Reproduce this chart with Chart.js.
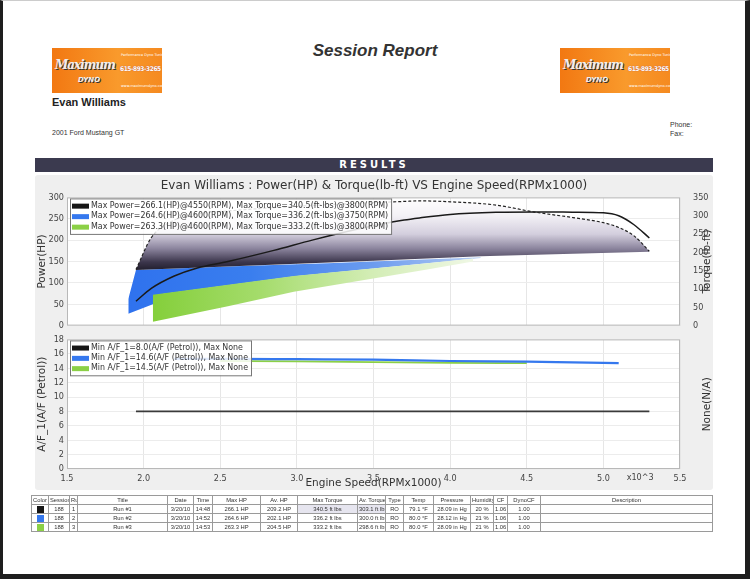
<!DOCTYPE html>
<html>
<head>
<meta charset="utf-8">
<script src="https://cdn.jsdelivr.net/npm/chart.js@4/dist/chart.umd.min.js"></script>
<style>
  html, body { margin: 0; padding: 0; }
  body { width: 750px; height: 579px; position: relative; background: #fff; overflow: hidden;
         font-family: "Liberation Sans", Arial, sans-serif; color: #333; }
  #frame { position: absolute; left: 0; top: 0; width: 742px; height: 573px;
           border-left: 3px solid #1e1e1e; border-right: 5px solid #1e1e1e; border-bottom: 6px solid #1e1e1e; border-top: 1px solid #ccc; }
  .logo { position: absolute; top: 48px; width: 110px; height: 45px;
          background: linear-gradient(90deg, #f27812, #f99a2c 60%, #f58a20); overflow: hidden; }
  .logo .mx { position: absolute; left: 3px; top: 10px; font: italic bold 12px "DejaVu Serif", serif;
              color: #eee; text-shadow: 1px 1px 0 #333; letter-spacing: -1px; }
  .logo .dy { position: absolute; left: 26px; top: 28px; font: italic bold 7px "DejaVu Sans", sans-serif; color: #eee; text-shadow: 1px 1px 0 #333; }
  .logo .l1, .logo .l3 { position: absolute; left: 69px; font: 3.5px "DejaVu Sans", sans-serif; color: #fff; white-space: nowrap; }
  .logo .l1 { top: 5px; } .logo .l3 { top: 36px; }
  .logo .l2 { position: absolute; left: 68px; top: 17px; font: bold 6.5px "DejaVu Sans Condensed", "DejaVu Sans", sans-serif; color: #fff;
              letter-spacing: -0.4px; text-shadow: 0 0 1px #a44; white-space: nowrap; }
  #title { position: absolute; left: 0; width: 750px; top: 41px; text-align: center; font: italic bold 17px "Liberation Sans", Arial, sans-serif; color: #333; }
  #cust { position: absolute; left: 52px; top: 96px; font: bold 11px "Liberation Sans", Arial, sans-serif; color: #222; }
  #car { position: absolute; left: 52px; top: 129px; font: 7px "Liberation Sans", Arial, sans-serif; color: #333; }
  #phone { position: absolute; left: 670px; top: 120px; font: 7px "Liberation Sans", Arial, sans-serif; color: #333; line-height: 9px; }
  #results { position: absolute; left: 35px; top: 158px; width: 678px; height: 14px; background: #3b3a4f;
             color: #fff; font: bold 10px "DejaVu Sans", sans-serif; letter-spacing: 3px; text-align: center; line-height: 14px; }
  #panel { position: absolute; left: 35px; top: 175px; width: 678px; height: 315px; background: #efefef; border-radius: 3px; }
  #pwrWrap { position: absolute; left: 35px; top: 176px; }
  #afWrap { position: absolute; left: 35px; top: 331px; }
  table { position: absolute; left: 31px; top: 495px; border-collapse: collapse; table-layout: fixed; width: 681px;
          font: 5.8px "Liberation Sans", Arial, sans-serif; color: #333; border: 1px solid #888; }
  td, th { border: 1px solid #9a9a9a; height: 8px; padding: 0 1px; white-space: nowrap; overflow: hidden; text-align: center; font-weight: normal; }
  .sw { display: inline-block; width: 7px; height: 7px; vertical-align: middle; }
  .hl { background: #e6e5ef; }
</style>
</head>
<body>
<div id="frame"></div>

<div class="logo" style="left:52px"><div class="mx">Maximum</div><div class="dy">DYNO</div>
  <div class="l1">Performance Dyno Tuning</div><div class="l2">615-893-3265</div><div class="l3">www.maximumdyno.com</div></div>
<div class="logo" style="left:560px"><div class="mx">Maximum</div><div class="dy">DYNO</div>
  <div class="l1">Performance Dyno Tuning</div><div class="l2">615-893-3265</div><div class="l3">www.maximumdyno.com</div></div>

<div id="title">Session Report</div>
<div id="cust">Evan Williams</div>
<div id="car">2001 Ford Mustang GT</div>
<div id="phone">Phone:<br>Fax:</div>
<div id="results">RESULTS</div>
<div id="panel"></div>

<div id="pwrWrap"><canvas id="pwrChart" width="678" height="160"></canvas></div>
<div id="afWrap"><canvas id="afChart" width="678" height="159"></canvas></div>

<table id="runTable"></table>

<script>
// run colours and legend text
var runColors = ['#161616', '#3578ee', '#8bd046'];
var powerLegend = [
  'Max Power=266.1(HP)@4550(RPM), Max Torque=340.5(ft-lbs)@3800(RPM)',
  'Max Power=264.6(HP)@4600(RPM), Max Torque=336.2(ft-lbs)@3750(RPM)',
  'Max Power=263.3(HP)@4600(RPM), Max Torque=333.2(ft-lbs)@3800(RPM)'
];
var afLegend = [
  'Min A/F_1=8.0(A/F (Petrol)), Max None',
  'Min A/F_1=14.6(A/F (Petrol)), Max None',
  'Min A/F_1=14.5(A/F (Petrol)), Max None'
];

// run #1 power and torque curves (RPM x1000)
var rpmBlack = [1.95, 2.05, 2.2, 2.35, 2.55, 2.85, 3.1, 3.4, 3.7, 3.8, 4.0, 4.3, 4.55, 4.8, 5.0, 5.1, 5.2, 5.3];
var hpBlack  = [57, 87, 116, 135, 150, 176, 200, 226, 247, 252, 260, 265, 266.1, 265.5, 264, 257, 236, 205];
var tqBlack  = [153, 240, 288, 305, 313, 322, 328, 334, 339, 340.5, 338, 329, 310, 295, 281, 268, 245, 203];

// shaded bands (HP scale)
var darkLowRpm  = [1.95, 2.5, 3.5, 4.2, 4.8, 5.3];
var darkLowHp   = [130, 138, 152, 162, 168, 173];
var blueUpRpm   = [1.9, 1.95, 2.6, 3.2, 4.2];
var blueUpHp    = [62, 130, 139, 146, 160];
var blueLowRpm  = [1.9, 2.06, 2.1, 3.0, 3.85, 4.2];
var blueLowHp   = [28, 50, 73, 116, 146, 158];
var greenUpRpm  = [2.06, 2.98, 3.85, 4.15];
var greenUpHp   = [72, 116, 146, 157];
var greenLowRpm = [2.06, 2.55, 2.98, 3.85, 4.15];
var greenLowHp  = [9, 45, 79, 131, 150];

// air/fuel
var afBlackRpm = [1.95, 5.3];
var afBlack    = [8.0, 8.0];
var afBlueRpm  = [2.2, 2.6, 3.0, 3.5, 4.0, 4.5, 4.8, 5.1];
var afBlue     = [15.3, 15.3, 15.25, 15.2, 15.0, 14.9, 14.8, 14.7];
var afGreenRpm = [2.5, 3.0, 3.5, 4.0, 4.5];
var afGreen    = [15.0, 14.95, 14.85, 14.75, 14.7];

// table
var tableHead = ['Color', 'Session', 'Run', 'Title', 'Date', 'Time', 'Max HP', 'Av. HP', 'Max Torque', 'Av. Torque', 'Type', 'Temp', 'Pressure', 'Humidity', 'CF', 'DynoCF', 'Description'];
var colWidths = [17, 21, 8, 90, 26, 19, 48, 37, 60, 28, 18, 30, 37, 23, 14, 33, 172];
var sessions  = ['188', '188', '188'];
var runs      = ['1', '2', '3'];
var titles    = ['Run #1', 'Run #2', 'Run #3'];
var dates     = ['3/20/10', '3/20/10', '3/20/10'];
var times     = ['14:48', '14:52', '14:53'];
var maxHp     = ['266.1 HP', '264.6 HP', '263.3 HP'];
var avHp      = ['209.2 HP', '202.1 HP', '204.5 HP'];
var maxTq     = ['340.5 ft lbs', '336.2 ft lbs', '333.2 ft lbs'];
var avTq      = ['303.1 ft lbs', '300.0 ft lbs', '298.6 ft lbs'];
var types     = ['RO', 'RO', 'RO'];
var temps     = ['79.1 °F', '80.0 °F', '80.0 °F'];
var pressures = ['28.09 in Hg', '28.12 in Hg', '28.09 in Hg'];
var humidity  = ['20 %', '21 %', '21 %'];
var cfs       = ['1.06', '1.06', '1.06'];
var dynoCfs   = ['1.00', '1.00', '1.00'];

function pts(xs, ys) {
  return xs.map(function(x, i) { return { x: x, y: ys[i] }; });
}

function buildTable() {
  var html = '<colgroup>' + colWidths.map(function(w) { return '<col style="width:' + w + 'px">'; }).join('') + '</colgroup>';
  html += '<tr>' + tableHead.map(function(h) { return '<th>' + h + '</th>'; }).join('') + '</tr>';
  for (var i = 0; i < 3; i++) {
    var hl = i == 0 ? ' class="hl"' : '';
    html += '<tr><td><span class="sw" style="background:' + runColors[i] + '"></span></td>' +
      '<td>' + sessions[i] + '</td><td>' + runs[i] + '</td><td>' + titles[i] + '</td><td>' + dates[i] + '</td>' +
      '<td>' + times[i] + '</td><td>' + maxHp[i] + '</td><td>' + avHp[i] + '</td><td' + hl + '>' + maxTq[i] + '</td>' +
      '<td' + hl + '>' + avTq[i] + '</td><td>' + types[i] + '</td><td>' + temps[i] + '</td><td>' + pressures[i] + '</td>' +
      '<td>' + humidity[i] + '</td><td>' + cfs[i] + '</td><td>' + dynoCfs[i] + '</td><td></td></tr>';
  }
  document.getElementById('runTable').innerHTML = html;
}

// white plot area + border, legend box, right-hand axis title
var plotBox = {
  id: 'plotBox',
  beforeDraw: function(chart) {
    var a = chart.chartArea, ctx = chart.ctx;
    ctx.save();
    ctx.fillStyle = '#fff';
    ctx.fillRect(a.left, a.top, a.width, a.height);
    ctx.restore();
  },
  afterDraw: function(chart, args, opts) {
    var a = chart.chartArea, ctx = chart.ctx;
    ctx.save();
    ctx.strokeStyle = '#b8b8b8';
    ctx.lineWidth = 1;
    ctx.strokeRect(a.left + 0.5, a.top + 0.5, a.width - 1, a.height - 1);

    // legend
    if (opts.labels) {
      ctx.font = opts.font;
      var w = 0;
      opts.labels.forEach(function(t) { w = Math.max(w, ctx.measureText(t).width); });
      var x0 = a.left + opts.dx, y0 = a.top + opts.dy, rh = opts.rowH;
      var bw = w + 24, bh = rh * opts.labels.length + 4;
      ctx.fillStyle = 'rgba(255,255,255,0.85)';
      ctx.fillRect(x0, y0, bw, bh);
      ctx.strokeStyle = '#777';
      ctx.strokeRect(x0 + 0.5, y0 + 0.5, bw, bh);
      ctx.textBaseline = 'middle';
      opts.labels.forEach(function(t, i) {
        var cy = y0 + 2 + rh * i + rh / 2;
        ctx.fillStyle = runColors[i];
        ctx.fillRect(x0 + 2, cy - 2, 17, 5);
        ctx.fillStyle = '#333';
        ctx.fillText(t, x0 + 21, cy);
      });
    }
    if (opts.rightTitle) {
      ctx.font = '10.5px "DejaVu Sans"';
      ctx.fillStyle = '#333';
      ctx.textAlign = 'center';
      ctx.textBaseline = 'middle';
      ctx.translate(a.right + 27, (a.top + a.bottom) / 2);
      ctx.rotate(-Math.PI / 2);
      ctx.fillText(opts.rightTitle, 0, 0);
      ctx.setTransform(1, 0, 0, 1, 0, 0);
    }
    if (opts.expLabel) {
      var xs = chart.scales.x;
      ctx.font = '9px "DejaVu Sans Condensed", "DejaVu Sans"';
      ctx.fillStyle = '#444';
      ctx.textAlign = 'center';
      ctx.textBaseline = 'top';
      ctx.fillText(opts.expLabel, xs.getPixelForValue(5.24), a.bottom + 4);
    }
    ctx.restore();
  }
};

function darkFill(c) {
  var ch = c.chart;
  if (!ch.chartArea) return 'rgba(40,36,55,0.8)';
  var ys = ch.scales.y;
  var g = ch.ctx.createLinearGradient(0, ys.getPixelForValue(128), 0, ys.getPixelForValue(300));
  g.addColorStop(0, '#1f1c2a');
  g.addColorStop(0.12, '#3c364c');
  g.addColorStop(0.3, '#8a839c');
  g.addColorStop(0.5, '#d3cedd');
  g.addColorStop(0.75, '#f3f1f6');
  g.addColorStop(1, '#ffffff');
  return g;
}

function hGrad(x0, x1, stops) {
  return function(c) {
    var ch = c.chart;
    if (!ch.chartArea) return stops[0];
    var xs = ch.scales.x;
    var g = ch.ctx.createLinearGradient(xs.getPixelForValue(x0), 0, xs.getPixelForValue(x1), 0);
    stops.forEach(function(s, i) { g.addColorStop(i / (stops.length - 1), s); });
    return g;
  };
}

var tickFont = { family: '"DejaVu Sans Condensed", "DejaVu Sans"', size: 9 };
var axTitleFont = { family: 'DejaVu Sans', size: 10.5 };

function xScale(showTicks) {
  return {
    type: 'linear', min: 1.5, max: 5.5,
    ticks: { display: showTicks, stepSize: 0.5, font: tickFont, color: '#444', padding: 4, maxRotation: 0 },
    grid: { color: '#e6e6e6', drawTicks: false },
    border: { display: false },
    title: { display: showTicks, text: 'Engine Speed(RPMx1000)', font: axTitleFont, color: '#333', padding: { top: -8, bottom: 0 } },
    afterFit: function(s) { s.height = showTicks ? 21 : 4; }
  };
}

buildTable();

new Chart(document.getElementById('pwrChart'), {
  type: 'line',
  data: {
    datasets: [
      { data: pts(rpmBlack, hpBlack), yAxisID: 'y', borderColor: '#1a1a1a', borderWidth: 1.5, fill: false, cubicInterpolationMode: 'monotone', order: 0 },
      { data: pts(rpmBlack, tqBlack), yAxisID: 'y1', borderColor: '#222', borderWidth: 1.2, borderDash: [3, 2], cubicInterpolationMode: 'monotone',
        fill: 2, backgroundColor: darkFill, order: 1 },
      { data: pts(darkLowRpm, darkLowHp), yAxisID: 'y', borderWidth: 0, borderColor: 'rgba(0,0,0,0)', fill: false, order: 2 },
      { data: pts(greenUpRpm, greenUpHp), yAxisID: 'y', borderWidth: 0, borderColor: 'rgba(0,0,0,0)', fill: 4,
        backgroundColor: hGrad(2.05, 4.2, ['#84cf3a', '#a5dc6c', '#d3edb5', '#f1f8e8']), order: 3 },
      { data: pts(greenLowRpm, greenLowHp), yAxisID: 'y', borderWidth: 0, borderColor: 'rgba(0,0,0,0)', fill: false, order: 4 },
      { data: pts(blueUpRpm, blueUpHp), yAxisID: 'y', borderWidth: 0, borderColor: 'rgba(0,0,0,0)', fill: 6,
        backgroundColor: hGrad(1.9, 4.3, ['#2f72ee', '#3a7eee', '#6c9cef', '#c2d5f3']), order: 5 },
      { data: pts(blueLowRpm, blueLowHp), yAxisID: 'y', borderWidth: 0, borderColor: 'rgba(0,0,0,0)', fill: false, order: 6 }
    ]
  },
  options: {
    responsive: false,
    animation: false,
    elements: { point: { radius: 0 }, line: { tension: 0 } },
    layout: { padding: 0 },
    plugins: {
      legend: { display: false },
      tooltip: { enabled: false },
      title: { display: true, text: 'Evan Williams : Power(HP) & Torque(lb-ft) VS Engine Speed(RPMx1000)',
               font: { family: 'DejaVu Sans', size: 12, weight: 'normal' }, color: '#333', padding: { top: 3, bottom: 4 } },
      plotBox: { labels: powerLegend, font: '8.8px "DejaVu Sans Condensed", "DejaVu Sans"', dx: 3, dy: 1, rowH: 10.5, rightTitle: 'Torque(lb-ft)' }
    },
    scales: {
      x: xScale(false),
      y: { position: 'left', min: 0, max: 300,
           ticks: { stepSize: 50, font: tickFont, color: '#444', padding: 3 },
           grid: { color: '#ececec', drawTicks: false }, border: { display: false },
           title: { display: true, text: 'Power(HP)', font: axTitleFont, color: '#333', padding: { top: 1, bottom: 0 } },
           afterFit: function(s) { s.width = 32; } },
      y1: { position: 'right', min: 0, max: 350,
            ticks: { stepSize: 50, font: tickFont, color: '#444', padding: 5 },
            grid: { display: false }, border: { display: false },
            afterFit: function(s) { s.width = 33; } }
    }
  },
  plugins: [plotBox]
});

new Chart(document.getElementById('afChart'), {
  type: 'line',
  data: {
    datasets: [
      { data: pts(afBlackRpm, afBlack), yAxisID: 'y', borderColor: '#3a3a3a', borderWidth: 1.8, fill: false },
      { data: pts(afBlueRpm, afBlue), yAxisID: 'y', borderColor: runColors[1], borderWidth: 2.2, fill: false, cubicInterpolationMode: 'monotone' },
      { data: pts(afGreenRpm, afGreen), yAxisID: 'y', borderColor: runColors[2], borderWidth: 1.8, fill: false, cubicInterpolationMode: 'monotone' }
    ]
  },
  options: {
    responsive: false,
    animation: false,
    elements: { point: { radius: 0 }, line: { tension: 0 } },
    layout: { padding: 0 },
    plugins: {
      legend: { display: false },
      tooltip: { enabled: false },
      plotBox: { labels: afLegend, font: '8.8px "DejaVu Sans Condensed", "DejaVu Sans"', dx: 3, dy: 1, rowH: 10.3, expLabel: 'x10^3', rightTitle: 'None(N/A)' }
    },
    scales: {
      x: xScale(true),
      y: { position: 'left', min: 0, max: 18,
           ticks: { stepSize: 2, font: tickFont, color: '#444', padding: 3 },
           grid: { color: '#ececec', drawTicks: false }, border: { display: false },
           title: { display: true, text: 'A/F_1(A/F (Petrol))', font: axTitleFont, color: '#333', padding: { top: 1, bottom: 0 } },
           afterFit: function(s) { s.width = 32; } },
      y1: { position: 'right', min: 0, max: 1,
            ticks: { display: false },
            grid: { display: false }, border: { display: false },
            afterFit: function(s) { s.width = 33; } }
    }
  },
  plugins: [plotBox]
});
</script>
</body>
</html>
